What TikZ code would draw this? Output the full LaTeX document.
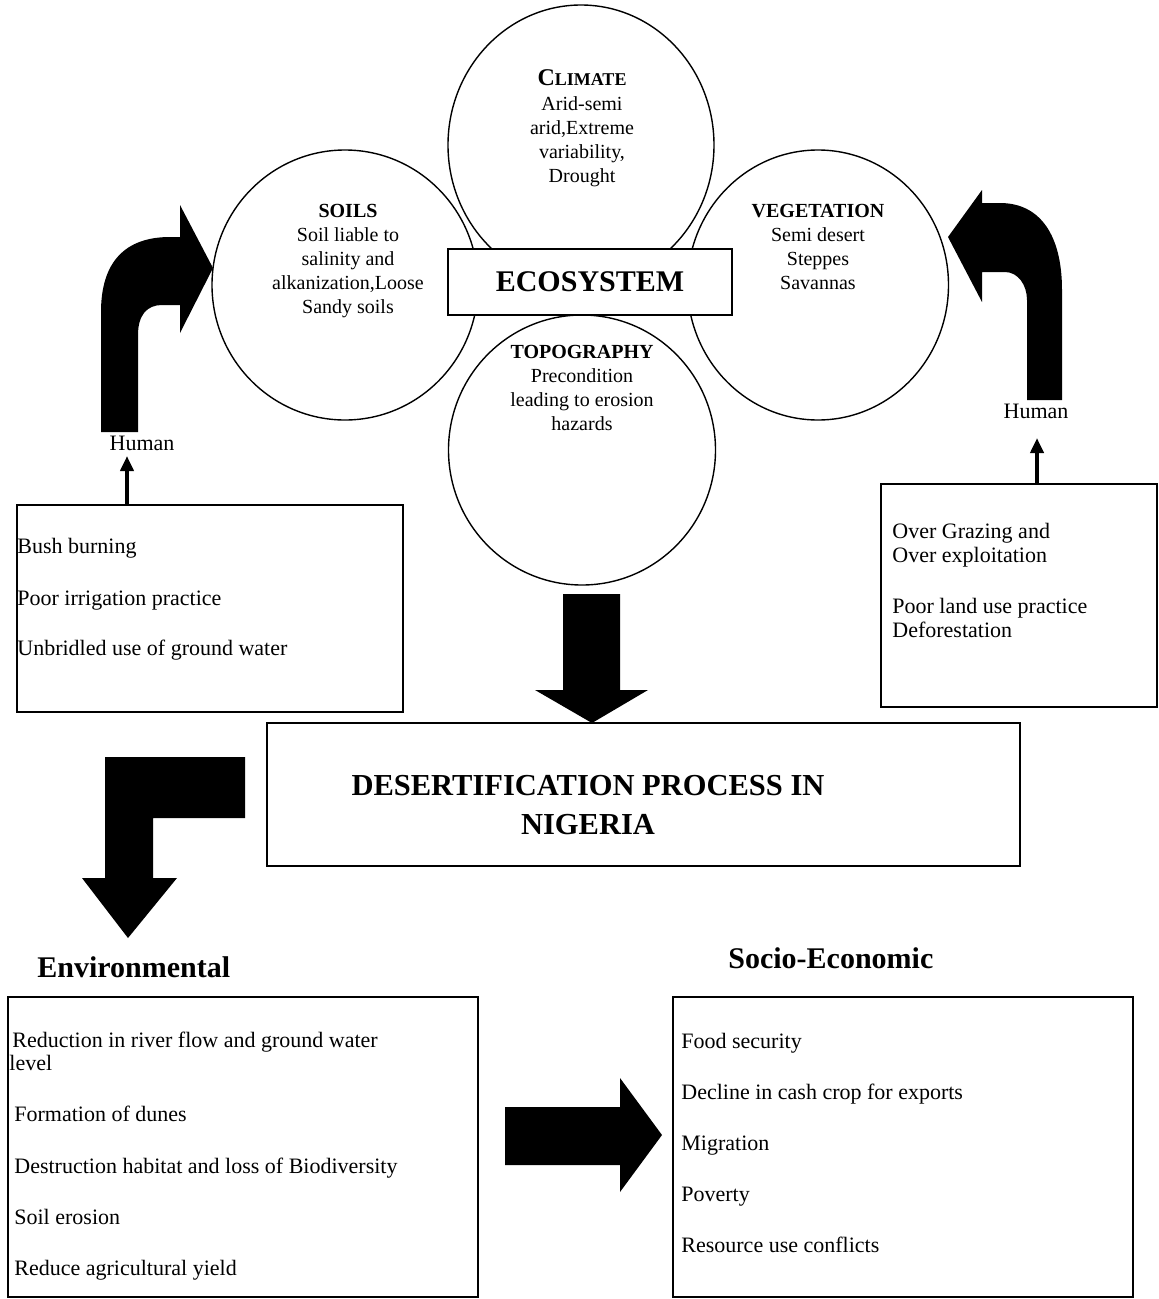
\documentclass[tikz,border=0pt]{standalone}
\usepackage{fontspec}
\setmainfont{Liberation Serif}
\usetikzlibrary{shapes.geometric, positioning, arrows.meta}

\begin{document}
\begin{tikzpicture}[x=1pt,y=-1pt,thick]
  \tikzstyle{ring}=[draw,ellipse,line width=1.4pt,inner sep=0pt]
  \tikzstyle{ringtext}=[align=center,anchor=north,inner sep=0pt,font=\fontsize{20}{24}\selectfont]
  \tikzstyle{box}=[draw,line width=1.4pt,inner sep=0pt]
  \tikzstyle{item}=[anchor=base west,inner sep=0pt,font=\fontsize{22}{24}\selectfont]
  \tikzstyle{heading}=[anchor=base west,inner sep=0pt,font=\fontsize{30}{36}\selectfont\bfseries]
  \tikzstyle{smallarrow}=[line width=4pt,-{Triangle[length=15pt,width=13pt]}]

  \useasboundingbox (0,0) rectangle (1159,1299);

  % the four circles
  \node[ring, minimum width=266pt, minimum height=280pt] (climate) at (581,145) {};
  \node[ring, minimum width=266pt, minimum height=270pt] (soils) at (345,285) {};
  \node[ring, minimum width=261pt, minimum height=270pt] (vegetation) at (818,285) {};
  \node[ring, minimum width=267pt, minimum height=270pt] (topography) at (582,450) {};

  \node[ringtext] at (582,69) {\textbf{{\fontsize{24}{24}\selectfont C}{\fontsize{18}{24}\selectfont LIMATE}}\\[1pt]Arid-semi\\arid,Extreme\\variability,\\Drought};
  \node[ringtext] at (348,204) {\textbf{SOILS}\\Soil liable to\\salinity and\\alkanization,Loose\\Sandy soils};
  \node[ringtext] at (818,204) {\textbf{VEGETATION}\\Semi desert\\Steppes\\Savannas};
  \node[ringtext] at (582,345) {\textbf{TOPOGRAPHY}\\Precondition\\leading to erosion\\hazards};

  \node[box, fill=white, minimum width=284pt, minimum height=66pt, font=\fontsize{30}{36}\selectfont\bfseries] (ecosystem) at (590,282) {ECOSYSTEM};

  % bent arrows from the human side
  \fill (101,432) -- (101,312) .. controls (101,262) and (125,237) .. (170,237) -- (180,237) -- (180,205)
        -- (213,268) -- (180,333) -- (180,305) -- (162,305) .. controls (147,305) and (138,315) .. (138,335)
        -- (138,432) -- cycle;
  \fill (1062,400) -- (1062,290) .. controls (1062,235) and (1040,203) .. (1000,203) -- (982,203) -- (982,190)
        -- (948,237) -- (982,302) -- (982,272) -- (1005,272) .. controls (1018,272) and (1027,285) .. (1027,300)
        -- (1027,400) -- cycle;

  \node[font=\fontsize{22}{24}\selectfont] (humanL) at (142,443) {Human};
  \node[font=\fontsize{22}{24}\selectfont] (humanR) at (1036,411) {Human};

  \node[box, minimum width=386pt, minimum height=207pt] (leftbox) at (210,608.5) {};
  \node[item] at (17,553) {Bush burning};
  \node[item] at (17,605) {Poor irrigation practice};
  \node[item] at (17,655) {Unbridled use of ground water};

  \node[box, minimum width=276pt, minimum height=223pt] (rightbox) at (1019,595.5) {};
  \node[item] at (892,538) {Over Grazing and};
  \node[item] at (892,562) {Over exploitation};
  \node[item] at (892,613) {Poor land use practice};
  \node[item] at (892,637) {Deforestation};

  \coordinate (hl) at (127,456);
  \coordinate (hr) at (1037,438);
  \draw[smallarrow] (leftbox.north -| hl) -- (hl);
  \draw[smallarrow] (rightbox.north -| hr) -- (hr);

  % down into the process
  \fill (563,594) -- (620,594) -- (620,690) -- (648,690) -- (592,723) -- (535,690) -- (563,690) -- cycle;

  \node[box, minimum width=753pt, minimum height=143pt] (process) at (643.5,794.5) {};
  \node[align=center, font=\fontsize{30.5}{39}\selectfont\bfseries] at (588,805) {DESERTIFICATION PROCESS IN\\NIGERIA};

  \fill (245,757) -- (245,818) -- (153,818) -- (153,878) -- (177,878) -- (128,938) -- (82,878) -- (105,878)
        -- (105,757) -- cycle;

  \node[heading] at (37,977) {Environmental};
  \node[heading] at (728,968) {Socio-Economic};

  \node[box, minimum width=470pt, minimum height=300pt] (envbox) at (243,1147) {};
  \node[item] at (12,1047) {Reduction in river flow and ground water};
  \node[item] at (9,1070) {level};
  \node[item] at (14,1121) {Formation of dunes};
  \node[item] at (14,1173) {Destruction habitat and loss of Biodiversity};
  \node[item] at (14,1224) {Soil erosion};
  \node[item] at (14,1275) {Reduce agricultural yield};

  \fill (505,1107) -- (620,1107) -- (620,1078) -- (662,1135) -- (620,1192) -- (620,1165) -- (505,1165) -- cycle;

  \node[box, minimum width=460pt, minimum height=300pt] (socbox) at (903,1147) {};
  \node[item] at (681,1048) {Food security};
  \node[item] at (681,1099) {Decline in cash crop for exports};
  \node[item] at (681,1150) {Migration};
  \node[item] at (681,1201) {Poverty};
  \node[item] at (681,1252) {Resource use conflicts};
\end{tikzpicture}
\end{document}
